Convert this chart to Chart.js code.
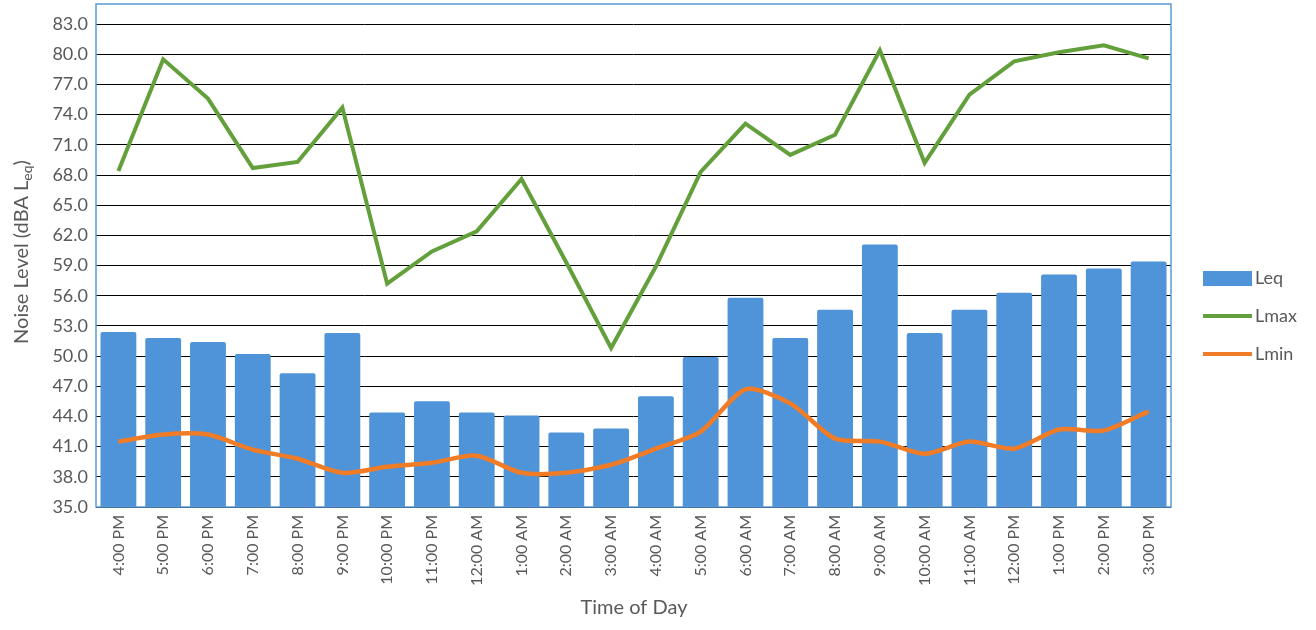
<!DOCTYPE html>
<html>
<head>
<meta charset="utf-8">
<script src="https://cdn.jsdelivr.net/npm/chart.js@4.4.1/dist/chart.umd.min.js"></script>
<style>
    html, body { margin: 0; padding: 0; background: #fff; }
    #wrap { width: 1316px; height: 630px; position: relative; }
</style>
</head>
<body>
<div id="wrap"><canvas id="noiseChart"></canvas></div>
<script>
// hours of the survey
let hours = ["4:00 PM", "5:00 PM", "6:00 PM", "7:00 PM", "8:00 PM", "9:00 PM", "10:00 PM", "11:00 PM",
    "12:00 AM", "1:00 AM", "2:00 AM", "3:00 AM", "4:00 AM", "5:00 AM", "6:00 AM", "7:00 AM",
    "8:00 AM", "9:00 AM", "10:00 AM", "11:00 AM", "12:00 PM", "1:00 PM", "2:00 PM", "3:00 PM"];

let leq = [52.4, 51.8, 51.4, 50.2, 48.3, 52.3, 44.4, 45.5, 44.4, 44.1, 42.4, 42.8,
    46.0, 49.9, 55.8, 51.8, 54.6, 61.1, 52.3, 54.6, 56.3, 58.1, 58.7, 59.4];

let lmax = [68.4, 79.5, 75.6, 68.7, 69.3, 74.7, 57.2, 60.4, 62.4, 67.6, 59.3, 50.8,
    58.9, 68.3, 73.1, 70.0, 72.0, 80.4, 69.2, 76.0, 79.3, 80.2, 80.9, 79.6];

let lmin = [41.5, 42.2, 42.2, 40.7, 39.8, 38.4, 39.0, 39.4, 40.1, 38.4, 38.4, 39.2,
    40.8, 42.5, 46.7, 45.3, 41.8, 41.5, 40.3, 41.5, 40.8, 42.7, 42.6, 44.5];

let yTickValues = [35, 38, 41, 44, 47, 50, 53, 56, 59, 62, 65, 68, 71, 74, 77, 80, 83];

const blue = "#4f93d8";
const green = "#63a03b";
const orange = "#f07c27";
const grey = "#595959";
const font = "Lato";

// frame, legend and axis titles
const extras = {
    id: "extras",
    afterDraw(chart) {
        const ctx = chart.ctx;
        const a = chart.chartArea;
        ctx.save();

        ctx.strokeStyle = "#5b9bd5";
        ctx.lineWidth = 1.5;
        ctx.strokeRect(a.left, a.top, a.right - a.left, a.bottom - a.top);

        // legend
        ctx.font = "18px " + font;
        ctx.textBaseline = "middle";
        chart.data.datasets.forEach((ds, i) => {
            let y = 278 + i * 38;
            ctx.fillStyle = ds.borderColor;
            if (ds.type == "line") {
                ctx.fillRect(1203, y - 2, 49, 4);
            } else {
                ctx.fillStyle = ds.backgroundColor;
                ctx.fillRect(1203, y - 7, 49, 15);
            }
            ctx.fillStyle = grey;
            ctx.fillText(ds.label, 1255, y);
        });

        // x title
        ctx.font = "20px " + font;
        ctx.textAlign = "center";
        ctx.fillText("Time of Day", 634, 608);

        // y title with subscript
        ctx.translate(22, 252);
        ctx.rotate(-Math.PI / 2);
        let p1 = "Noise Level (dBA L", sub = "eq", p2 = ")";
        ctx.font = "20px " + font;
        let w1 = ctx.measureText(p1).width, w3 = ctx.measureText(p2).width;
        ctx.font = "14px " + font;
        let w2 = ctx.measureText(sub).width;
        let x = -(w1 + w2 + w3) / 2;
        ctx.textAlign = "left";
        ctx.font = "20px " + font;
        ctx.fillText(p1, x, 0);
        ctx.font = "14px " + font;
        ctx.fillText(sub, x + w1, 5);
        ctx.font = "20px " + font;
        ctx.fillText(p2, x + w1 + w2, 0);

        ctx.restore();
    }
};

const chartCtx = document.getElementById("noiseChart").getContext("2d");

new Chart(chartCtx, {
    type: "bar",
    data: {
        labels: hours,
        datasets: [
            {
                label: "Leq",
                data: leq,
                backgroundColor: blue,
                borderColor: blue,
                barPercentage: 0.8,
                categoryPercentage: 1,
                borderRadius: 2,
                borderSkipped: "bottom",
                order: 3
            },
            {
                type: "line",
                label: "Lmax",
                data: lmax,
                borderColor: green,
                borderWidth: 4,
                pointRadius: 0,
                tension: 0,
                order: 1
            },
            {
                type: "line",
                label: "Lmin",
                data: lmin,
                borderColor: orange,
                borderWidth: 4.5,
                pointRadius: 0,
                tension: 0.25,
                order: 2
            }
        ]
    },
    options: {
        responsive: true,
        maintainAspectRatio: false,
        animation: false,
        layout: { padding: { top: 4, right: 145, left: 0, bottom: 0 } },
        plugins: {
            legend: { display: false },
            tooltip: { enabled: false }
        },
        scales: {
            x: {
                grid: { display: false, drawTicks: false },
                border: { display: false },
                ticks: {
                    minRotation: 90,
                    maxRotation: 90,
                    autoSkip: false,
                    padding: 8,
                    color: grey,
                    font: { family: font, size: 16 }
                },
                afterFit(s) {
                    s.height = 123;
                    s.paddingLeft = 0;
                    s.paddingRight = 0;
                }
            },
            y: {
                min: 35,
                max: 85,
                grid: { color: "#000", lineWidth: 1, drawTicks: false },
                border: { display: false },
                ticks: {
                    padding: 8,
                    color: grey,
                    font: { family: font, size: 18 },
                    callback: v => v.toFixed(1)
                },
                afterBuildTicks(s) {
                    s.ticks = yTickValues.map(v => ({ value: v }));
                },
                afterFit(s) {
                    s.width = 96;
                    s.paddingTop = 0;
                    s.paddingBottom = 0;
                }
            }
        }
    },
    plugins: [extras]
});
</script>
</body>
</html>
